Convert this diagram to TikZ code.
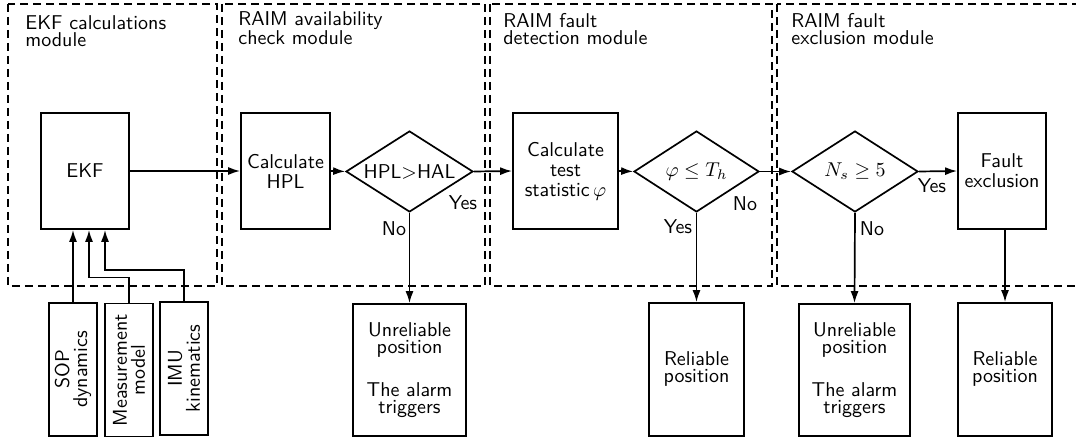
\documentclass[tikz,border=0pt]{standalone}
\usetikzlibrary{shapes.geometric,arrows.meta}
\begin{document}
\begin{tikzpicture}[x=0.5pt,y=-0.5pt,
  lw/.style={line width=0.85pt},
  box/.style={draw,lw,inner sep=0pt,align=center,font=\sffamily\fontsize{10}{10}\selectfont},
  tbox/.style={box,font=\sffamily\fontsize{10}{8.5}\selectfont},
  ibox/.style={box,rotate=90,font=\sffamily\fontsize{10}{9}\selectfont,minimum width=66.5pt,minimum height=24pt},
  dec/.style={draw,lw,diamond,inner sep=0pt,aspect=1.57,minimum height=40.5pt,font=\sffamily},
  arr/.style={lw,-{Latex[length=6pt,width=4pt]}},
  module/.style={draw,lw,dash pattern=on 4pt off 2.5pt},
  title/.style={anchor=base west,inner sep=0pt,align=left,font=\sffamily\fontsize{10}{8.5}\selectfont},
  lbl/.style={inner sep=0pt,font=\sffamily}]
\useasboundingbox (0,0) rectangle (1076,437);
\clip (0,0) rectangle (1076,437);
% modules
\draw[module] (8,4) rectangle (217,286);
\draw[module] (222,4) rectangle (485,286);
\draw[module] (490,4) rectangle (772,286);
\draw[module] (777,4) rectangle (1095,286);
\node[title] (t1) at (25,47) {EKF calculations\\module};
\node[title] (t2) at (238,45) {RAIM availability\\check module};
\node[title] (t3) at (503,45) {RAIM fault\\detection module};
\node[title] (t4) at (791,45) {RAIM fault\\exclusion module};
% main row
\node[box,minimum width=44pt,minimum height=58pt] (E) at (85,171) {EKF};
\node[box,minimum width=44.5pt,minimum height=58pt] (C1) at (285.5,171) {Calculate\\HPL};
\node[dec,minimum width=63.5pt] (D1) at (409.5,171.5) {HPL$>$HAL};
\node[box,minimum width=52.5pt,minimum height=58pt] (C3) at (565.5,171) {Calculate\\test\\statistic$\,\varphi$};
\node[dec,minimum width=62.5pt] (D2) at (696.5,171.5) {$\varphi\leq T_h$};
\node[dec,minimum width=63pt] (D3) at (855,171.5) {$N_s\geq 5$};
\node[box,minimum width=44pt,minimum height=58pt] (FE) at (1002,171) {Fault\\exclusion};
% outputs
\node[tbox,minimum width=56.5pt,minimum height=66pt] (U1) at (409.5,370) {Unreliable\\position\\[11.5pt]The alarm\\triggers};
\node[tbox,minimum width=47.5pt,minimum height=66.5pt] (R1) at (696.5,369.5) {Reliable\\position};
\node[tbox,minimum width=55.5pt,minimum height=66pt] (U2) at (854.5,370) {Unreliable\\position\\[11.5pt]The alarm\\triggers};
\node[tbox,minimum width=47pt,minimum height=66.5pt] (R2) at (1005,369.5) {Reliable\\position};
% inputs
\node[ibox] (S) at (73,369.5) {SOP\\dynamics};
\node[ibox] (M) at (129,370) {Measurement\\model};
\node[ibox] (I) at (184,368.5) {IMU\\kinematics};
% connectors
\draw[arr] (E.east) -- (C1.west);
\draw[arr] (C1.east) -- (D1.west);
\draw[arr] (D1.east) -- (C3.west);
\draw[arr] (C3.east) -- (D2.west);
\draw[arr] (D2.east) -- (D3.west);
\draw[arr] (D3.east) -- (FE.west);
\draw[arr] (D1.south) -- (U1.north);
\draw[arr] (D2.south) -- (R1.north);
\draw[arr] (D3.south) -- (U2.north);
\draw[arr] (R2.north |- FE.south) -- (R2.north);
\draw[arr] (S.east) -- (S.east |- E.south);
\draw[arr] (M.east) -- ++(0,-25) -| ([xshift=2pt]E.south);
\draw[arr] (I.east) -- ++(0,-31) -| ([xshift=10pt]E.south);
% labels
\node[lbl] (y1) at (463,203) {Yes};
\node[lbl] (n1) at (394,229) {No};
\node[lbl] (n2) at (745,204) {No};
\node[lbl] (y2) at (678,227) {Yes};
\node[lbl] (y3) at (932,186) {Yes};
\node[lbl] (n3) at (872,229) {No};
\end{tikzpicture}
\end{document}
